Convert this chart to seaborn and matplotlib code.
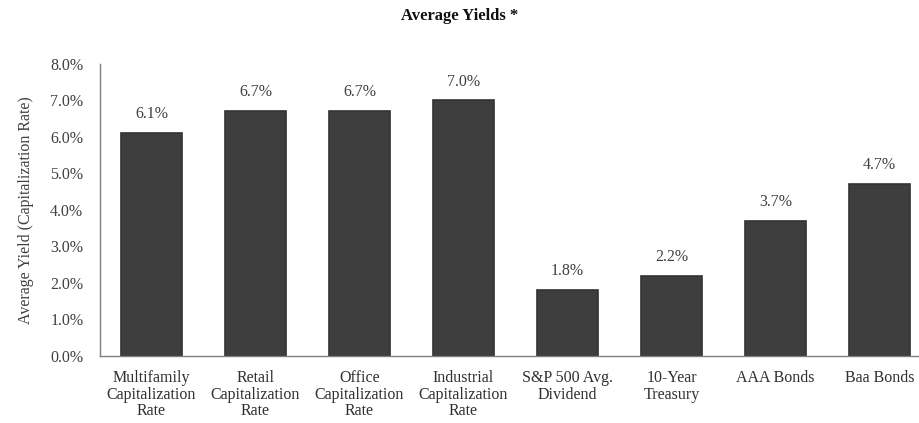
import matplotlib
matplotlib.use("Agg")
import matplotlib.pyplot as plt
import seaborn as sns
import pandas as pd
from matplotlib.ticker import FuncFormatter

# Data
categories = [
    "Multifamily\nCapitalization\nRate",
    "Retail\nCapitalization\nRate",
    "Office\nCapitalization\nRate",
    "Industrial\nCapitalization\nRate",
    "S&P 500 Avg.\nDividend",
    "10-Year\nTreasury",
    "AAA Bonds",
    "Baa Bonds",
]
yields = [6.1, 6.7, 6.7, 7.0, 1.8, 2.2, 3.7, 4.7]
value_labels = ["6.1%", "6.7%", "6.7%", "7.0%", "1.8%", "2.2%", "3.7%", "4.7%"]

df = pd.DataFrame({"category": categories, "yield": yields})

sns.set_style("white")
plt.rcParams["font.family"] = ["Liberation Serif", "DejaVu Serif"]

fig = plt.figure(figsize=(9.2, 4.23), dpi=100)
ax = fig.add_axes([0.1087, 0.1584, 0.8913, 0.6903])

sns.barplot(data=df, x="category", y="yield", color="#3e3e3e", saturation=1,
            width=0.58, edgecolor="#333333", linewidth=1.2, ax=ax)

for i, (v, lab) in enumerate(zip(yields, value_labels)):
    ax.text(i, v + 0.3, lab, ha="center", va="bottom", fontsize=11.5, color="#404040")

ax.set_ylim(0, 8)
ax.set_xlim(-0.495, 7.39)
ax.set_yticks([0, 1, 2, 3, 4, 5, 6, 7, 8])
ax.yaxis.set_major_formatter(FuncFormatter(lambda v, p: f"{v:.1f}%"))
ax.tick_params(axis="y", labelsize=11.5, colors="#404040", length=0, pad=12)
ax.tick_params(axis="x", labelsize=11.5, colors="#303030", length=0, pad=10)
for t in ax.get_xticklabels():
    t.set_linespacing(1.06)
ax.set_xlabel("")
ax.set_ylabel("Average Yield (Capitalization Rate)", fontsize=11.5, color="#404040", labelpad=12)

sns.despine(ax=ax)
for s in ["left", "bottom"]:
    ax.spines[s].set_color("#7f7f7f")
    ax.spines[s].set_linewidth(1.0)

fig.suptitle("Average Yields *", x=0.5, y=0.98, fontsize=12, fontweight="bold", color="#111111")

fig.savefig("out.png", dpi=100)
